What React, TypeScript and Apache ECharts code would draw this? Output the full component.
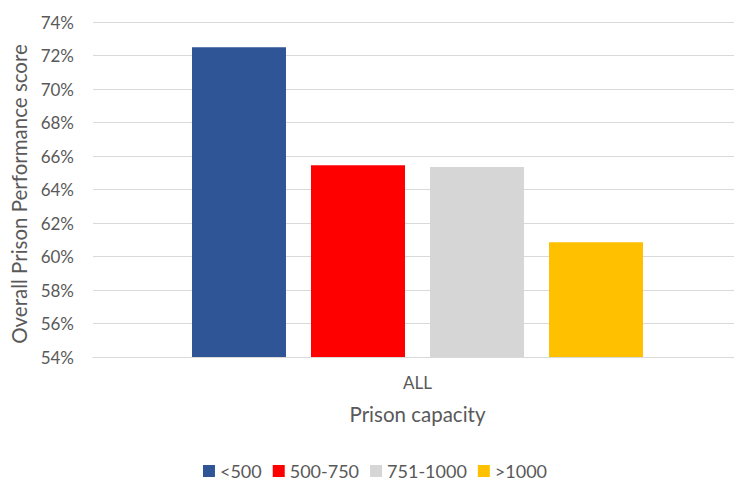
import React, { useEffect, useRef } from "react";
import * as echarts from "echarts";

const categories = ["ALL"];
const seriesNames = ["<500", "500-750", "751-1000", ">1000"];
const seriesValues = [72.5, 65.45, 65.35, 60.85];
const seriesColors = ["#2F5597", "#FF0000", "#D6D6D6", "#FFC000"];
const yTicks = { min: 54, max: 74, interval: 2 };

export default function App() {
  const ref = useRef<HTMLDivElement>(null);
  useEffect(() => {
    if (!ref.current) return;
    const chart = echarts.init(ref.current, null, { renderer: "svg" });
    const font = "Lato, 'Open Sans', sans-serif";
    chart.setOption({
      animation: false,
      textStyle: { fontFamily: font, color: "#595959" },
      grid: { left: 92, right: 8, top: 22, bottom: 125, containLabel: false },
      legend: {
        top: 462,
        left: "center",
        padding: 0,
        itemWidth: 12,
        itemHeight: 12,
        itemGap: 11,
        icon: "rect",
        textStyle: { fontSize: 18, lineHeight: 18, color: "#595959", fontFamily: font },
        data: seriesNames,
      },
      xAxis: {
        type: "category",
        data: categories,
        name: "Prison capacity",
        nameLocation: "middle",
        nameGap: 46,
        nameTextStyle: { fontSize: 20.5, color: "#595959", fontFamily: font },
        axisLine: { show: true, lineStyle: { color: "#D9D9D9", width: 1 } },
        axisTick: { show: false },
        axisLabel: { fontSize: 17, color: "#595959", margin: 17, fontFamily: font },
      },
      yAxis: {
        type: "value",
        min: yTicks.min,
        max: yTicks.max,
        interval: yTicks.interval,
        name: "Overall Prison Performance score",
        nameLocation: "middle",
        nameGap: 64,
        nameTextStyle: { fontSize: 20.5, color: "#595959", fontFamily: font, padding: [0, 9, 0, 0] },
        axisLine: { show: false },
        axisTick: { show: false },
        axisLabel: {
          fontSize: 17,
          color: "#595959",
          margin: 19,
          fontFamily: font,
          formatter: (v: number) => `${v}%`,
        },
        splitLine: { lineStyle: { color: "#D9D9D9", width: 1 } },
      },
      series: seriesNames.map((name, i) => ({
        name,
        type: "bar",
        data: [seriesValues[i]],
        barWidth: 94,
        barGap: "26.6%",
        itemStyle: { color: seriesColors[i] },
      })),
    });
    return () => chart.dispose();
  }, []);
  return (
    <div style={{ position: "absolute", left: 0, top: 0, width: 734, height: 482, overflow: "hidden", background: "#fff" }}>
      <div ref={ref} style={{ width: 750, height: 482 }} />
    </div>
  );
}
